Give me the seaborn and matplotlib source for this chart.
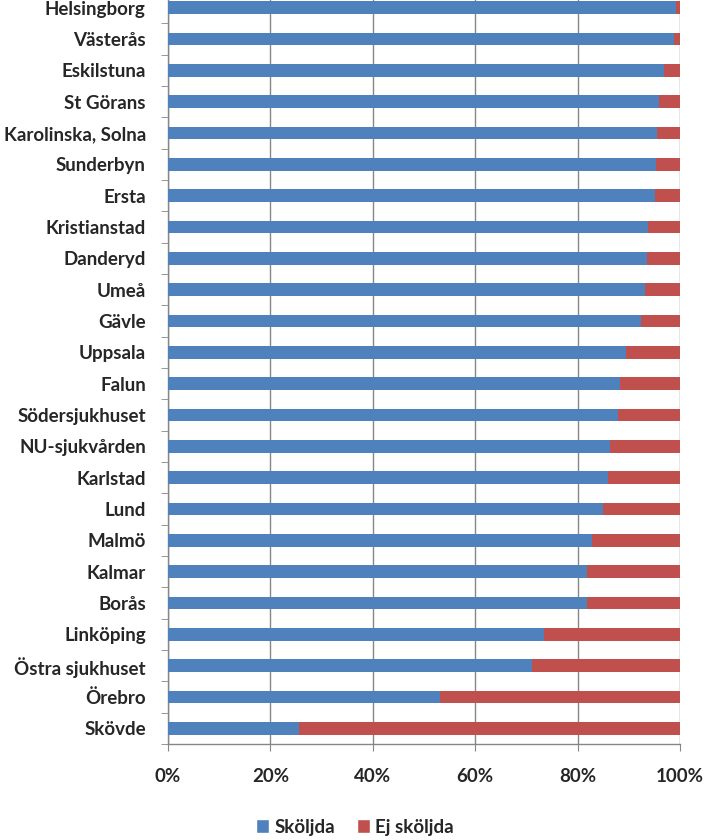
import matplotlib.pyplot as plt
import numpy as np
import pandas as pd
import seaborn as sns
from matplotlib.ticker import FixedLocator, PercentFormatter
from matplotlib.patches import Patch

hospitals = [
    "Helsingborg", "Västerås", "Eskilstuna", "St Görans", "Karolinska, Solna",
    "Sunderbyn", "Ersta", "Kristianstad", "Danderyd", "Umeå", "Gävle",
    "Uppsala", "Falun", "Södersjukhuset", "NU-sjukvården", "Karlstad", "Lund",
    "Malmö", "Kalmar", "Borås", "Linköping", "Östra sjukhuset", "Örebro",
    "Skövde",
]
skoljda = [
    99.2, 98.8, 96.8, 95.9, 95.5, 95.3, 95.1, 93.7, 93.5, 93.1, 92.4,
    89.5, 88.2, 87.9, 86.3, 85.9, 85.0, 82.9, 81.8, 81.8, 73.4, 71.1, 53.2,
    25.5,
]
ej_skoljda = [round(100 - v, 1) for v in skoljda]

BLUE = "#4F81BD"
RED = "#C0504D"
GRID = "#868686"
FS = 13.5

sns.set_style("white")
plt.rcParams["font.family"] = ["Lato", "DejaVu Sans"]

df = pd.DataFrame({"hospital": hospitals, "skoljda": skoljda, "ej": ej_skoljda})
df["total"] = df["skoljda"] + df["ej"]

fig = plt.figure(figsize=(7.08, 8.4), dpi=100)
ax = fig.add_axes([168 / 708, 96 / 840, 512 / 708, 752 / 840])

sns.barplot(data=df, x="total", y="hospital", orient="h", color=RED,
            width=0.4, saturation=1, ax=ax, zorder=3, linewidth=0)
sns.barplot(data=df, x="skoljda", y="hospital", orient="h", color=BLUE,
            width=0.4, saturation=1, ax=ax, zorder=4, linewidth=0)

n = len(hospitals)
ax.set_xlim(0, 100)
ax.set_ylim(n - 0.5, -0.5)
ax.set_xticks(np.arange(0, 101, 20))
ax.xaxis.set_major_formatter(PercentFormatter(decimals=0))
ax.grid(axis="x", color=GRID, linewidth=1, zorder=0)
ax.set_axisbelow(True)

for side in ["top", "right"]:
    ax.spines[side].set_visible(False)
for side in ["left", "bottom"]:
    ax.spines[side].set_color(GRID)
    ax.spines[side].set_linewidth(1)

ax.tick_params(axis="y", which="major", length=0, pad=16, labelsize=FS)
ax.yaxis.set_minor_locator(FixedLocator(np.arange(-0.5, n, 1)))
ax.tick_params(axis="y", which="minor", length=5, color=GRID, left=True)
ax.tick_params(axis="x", which="major", length=5, color=GRID, pad=12,
               labelsize=FS, bottom=True, direction="out")
for lbl in ax.get_xticklabels() + ax.get_yticklabels():
    lbl.set_fontweight("bold")

ax.set_xlabel("")
ax.set_ylabel("")

handles = [Patch(facecolor=BLUE, label="Sköljda"),
           Patch(facecolor=RED, label="Ej sköljda")]
fig.legend(handles=handles, loc="center", bbox_to_anchor=(355 / 708, 1 - 827 / 840),
           ncol=2, frameon=False, handlelength=0.7, handleheight=0.7,
           handletextpad=0.25, columnspacing=1.2,
           prop={"weight": "bold", "size": FS})

fig.savefig("out.png", dpi=100)
plt.close(fig)
